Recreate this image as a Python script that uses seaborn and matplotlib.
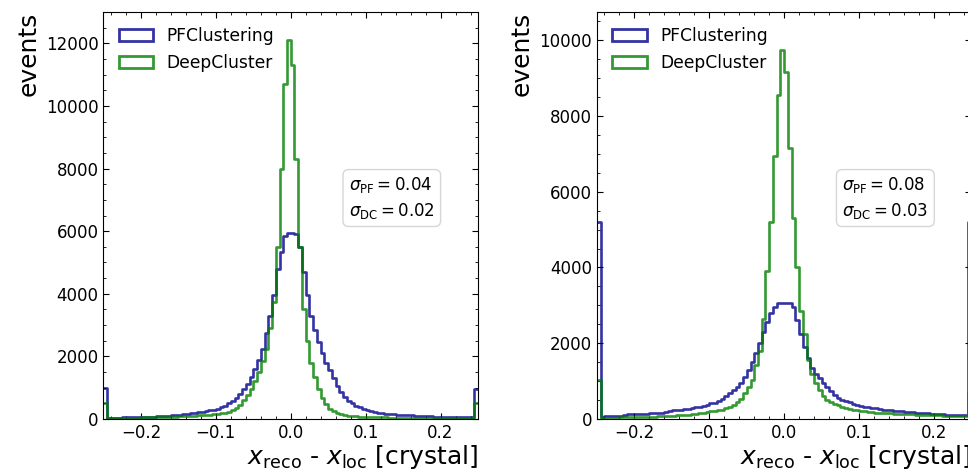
import numpy as np
import pandas as pd
import matplotlib
matplotlib.use("Agg")
import matplotlib.pyplot as plt
from matplotlib.patches import Patch
from matplotlib.ticker import AutoMinorLocator, FixedLocator
import seaborn as sns

plt.rcParams['font.family'] = ['DejaVu Sans']
plt.rcParams['mathtext.fontset'] = 'dejavusans'

# ---------------- data (bin counts) ----------------
labels = ["PFClustering", "DeepCluster"]
x_ticks = [-0.2, -0.1, 0.0, 0.1, 0.2]
yticks_left = [0, 2000, 4000, 6000, 8000, 10000, 12000]
yticks_right = [0, 2000, 4000, 6000, 8000, 10000]
sigma_left = ["0.04", "0.02"]
sigma_right = ["0.08", "0.03"]

pf_left = [980,
           40, 40, 45, 45, 50, 50, 55, 60, 60, 65,
           70, 75, 80, 85, 90, 100, 110, 120, 130, 140,
           155, 170, 185, 200, 215, 235, 255, 275, 300, 330,
           370, 430, 500, 580, 680, 800, 950, 1130, 1350, 1600,
           1900, 2250, 2750, 3300, 3950, 4800, 5350, 5850, 5950, 5950,
           5900, 5500, 4700, 3950, 3300, 2850, 2450, 2100, 1800, 1550,
           1300, 1050, 850, 700, 590, 500, 430, 370, 320, 280,
           250, 220, 200, 185, 170, 160, 150, 140, 130, 125,
           120, 115, 110, 100, 95, 90, 85, 80, 80, 75,
           75, 70, 70, 65, 65, 60, 60, 60,
           950]

dc_left = [520,
           30, 30, 30, 35, 35, 40, 40, 45, 45, 50,
           50, 55, 55, 60, 60, 65, 70, 75, 80, 85,
           90, 95, 100, 105, 115, 120, 130, 140, 150, 165,
           180, 205, 240, 290, 360, 460, 600, 760, 960, 1200,
           1500, 1850, 2250, 2900, 3750, 5500, 8000, 10700, 12100, 11300,
           8300, 5500, 3500, 2500, 1800, 1350, 950, 680, 470, 330,
           250, 200, 160, 130, 110, 95, 85, 75, 70, 65,
           60, 55, 55, 50, 50, 45, 45, 40, 40, 40,
           35, 35, 35, 30, 30, 30, 30, 30, 25, 25,
           25, 25, 25, 25, 20, 20, 20, 20,
           500]

pf_right = [5200,
            60, 70, 75, 80, 85, 90, 110, 120, 125, 130,
            135, 140, 145, 150, 150, 155, 170, 190, 210, 230,
            240, 250, 255, 265, 290, 310, 330, 350, 380, 410,
            430, 470, 530, 600, 680, 760, 850, 950, 1100, 1300,
            1500, 1750, 2000, 2300, 2550, 2800, 2950, 3050, 3050, 3050,
            3050, 2950, 2600, 2250, 1900, 1600, 1350, 1200, 1070, 940,
            850, 730, 640, 560, 510, 470, 440, 400, 370, 350,
            330, 310, 300, 290, 270, 250, 240, 230, 220, 210,
            205, 195, 185, 175, 170, 165, 160, 150, 140, 135,
            130, 125, 115, 110, 105, 105, 100, 100,
            5200]

dc_right = [1030,
            30, 35, 35, 40, 40, 45, 45, 50, 50, 55,
            55, 60, 60, 65, 65, 70, 75, 80, 85, 90,
            95, 100, 105, 115, 125, 140, 155, 170, 185, 200,
            215, 235, 250, 280, 330, 370, 460, 540, 680, 850,
            1030, 1420, 1800, 2650, 3900, 5200, 6950, 8550, 9750, 9150,
            7150, 5300, 4000, 2850, 2250, 1550, 1200, 940, 760, 600,
            500, 450, 400, 370, 330, 290, 270, 250, 230, 215,
            200, 185, 175, 170, 165, 160, 155, 150, 145, 140,
            135, 130, 125, 120, 115, 110, 105, 100, 100, 95,
            95, 90, 90, 85, 85, 80, 80, 80,
            700]

# ---------------- figure ----------------
n_bins = 100
x_range = (-0.25, 0.25)
edges = np.linspace(x_range[0], x_range[1], n_bins + 1)
centers = 0.5 * (edges[:-1] + edges[1:])
colors = {"PFClustering": "darkblue", "DeepCluster": "green"}

fig = plt.figure(figsize=(9.68, 4.76), dpi=100)
ax1 = fig.add_axes([0.1069, 0.1197, 0.3869, 0.855])
ax2 = fig.add_axes([0.6167, 0.1197, 0.3869, 0.855])

panels = [
    (ax1, pf_left, dc_left, sigma_left, 13000, yticks_left),
    (ax2, pf_right, dc_right, sigma_right, 10740, yticks_right),
]

for ax, pf, dc, sig, ymax, yt in panels:
    for name, counts in zip(labels, [pf, dc]):
        df = pd.DataFrame({"x": centers, "w": counts})
        sns.histplot(data=df, x="x", weights="w", bins=n_bins, binrange=x_range,
                     element="step", fill=False, color=colors[name], alpha=0.8,
                     linewidth=1.9, ax=ax)
    ax.set_xlim(*x_range)
    ax.set_ylim(0, ymax)
    ax.xaxis.set_major_locator(FixedLocator(x_ticks))
    ax.yaxis.set_major_locator(FixedLocator(yt))
    ax.xaxis.set_minor_locator(AutoMinorLocator(5))
    ax.yaxis.set_minor_locator(AutoMinorLocator(4))
    ax.tick_params(which="both", direction="in", top=True, right=True,
                   labelsize=12)
    ax.tick_params(which="major", length=4)
    ax.tick_params(which="minor", length=2.2)
    ax.set_ylabel("events", fontsize=18, loc="top")
    ax.set_xlabel(r"$x_{\rm reco}$ - $x_{\rm loc}$ [crystal]", fontsize=18,
                  loc="right", labelpad=1)
    handles = [Patch(facecolor="none", edgecolor=colors[n], linewidth=2,
                     alpha=0.8, label=n) for n in labels]
    ax.legend(handles=handles, loc="upper left", frameon=False, fontsize=12.3,
              handlelength=2.0, borderaxespad=0.5)
    txt = (r"$\sigma_{\rm PF} = %s$" % sig[0]) + "\n" + (r"$\sigma_{\rm DC} = %s$" % sig[1])
    ax.text(0.655, 0.543, txt, transform=ax.transAxes, ha="left", va="center",
            fontsize=12, linespacing=1.35,
            bbox=dict(boxstyle="round,pad=0.35", facecolor="white",
                      edgecolor="0.8", alpha=0.8))

fig.savefig("out.png", dpi=100)
